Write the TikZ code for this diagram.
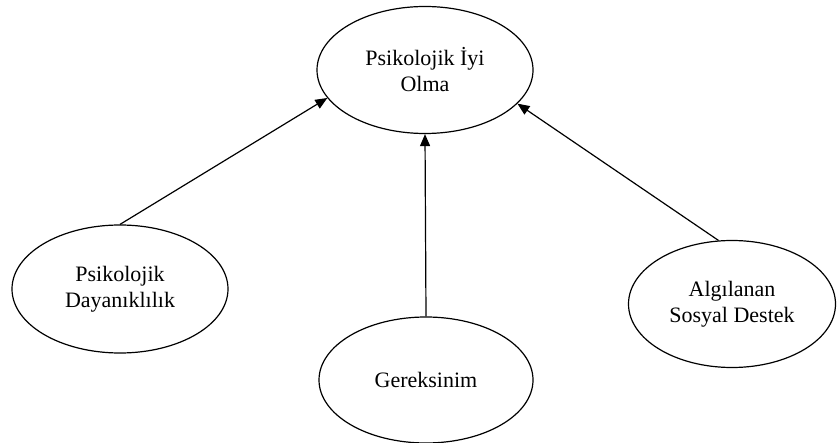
\documentclass[tikz,border=0pt]{standalone}
\usepackage{fontspec}
\setmainfont{Liberation Serif}
\usetikzlibrary{shapes.geometric,arrows.meta}
\begin{document}
\begin{tikzpicture}[x=1pt,y=-1pt,
  concept/.style={ellipse,draw,line width=1.2pt,inner sep=0pt,
    align=center,font=\fontsize{22}{26}\selectfont},
  link/.style={line width=1.2pt,-{Triangle[length=12pt,width=10pt]}}]
\useasboundingbox (0,0) rectangle (837,443);
\node[concept,minimum width=216pt,minimum height=127pt] (wb) at (425,70) {Psikolojik İyi\\Olma};
\node[concept,minimum width=216pt,minimum height=128pt] (res) at (120,289) {Psikolojik\\Dayanıklılık};
\node[concept,minimum width=214pt,minimum height=126pt] (need) at (426,380) {Gereksinim};
\node[concept,minimum width=207pt,minimum height=127pt] (sup) at (732,304) {Algılanan\\Sosyal Destek};
\draw[link] (res.north) -- (wb.196);
\draw[link] (need.north) -- (wb.south);
\draw[link] (sup.102) -- (wb.340);
\end{tikzpicture}
\end{document}
